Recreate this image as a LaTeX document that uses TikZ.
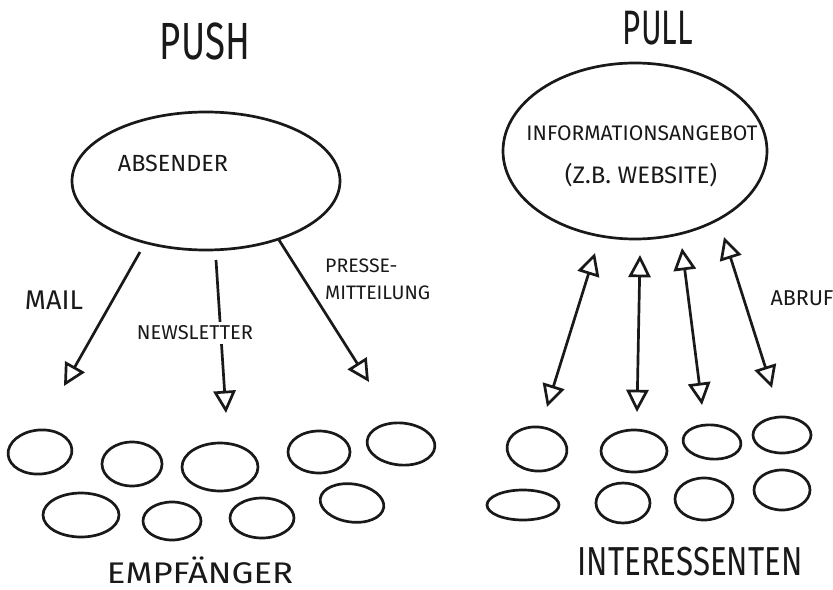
\documentclass[tikz,border=0pt]{standalone}
\usepackage{fontspec}
\setmainfont{Fira Sans}
\usetikzlibrary{shapes.geometric,arrows.meta}
\begin{document}
\begin{tikzpicture}[x=0.03cm,y=-0.03cm,
  ink/.style={line width=2.3pt, draw=black!90},
  blob/.style 2 args={ellipse, ink, inner sep=0pt, minimum width={#1*0.06cm}, minimum height={#2*0.06cm}},
  lbl/.style={inner sep=0pt, text=black!90},
  tipend/.style={ink, -{Triangle[open,length=19pt,width=19pt]}},
  tipboth/.style={ink, {Triangle[open,length=19pt,width=19pt]}-{Triangle[open,length=19pt,width=19pt]}}
]
\useasboundingbox[fill=white] (0,0) rectangle (833,590);

% titles
\node[lbl] (push) at (205,41) {\resizebox{2.7cm}{1.1cm}{PUSH}};
\node[lbl] (pull) at (658,28) {\resizebox{2.1cm}{1.0cm}{PULL}};

% central ellipses
\node[blob={134}{69}] (abs) at (206,181) {};
\node[lbl] (abstext) at (173,163) {\resizebox{3.3cm}{!}{ABSENDER}};
\node[blob={132}{88}] (info) at (635,151) {};
\node[lbl] (infot1) at (642,133) {\resizebox{6.93cm}{!}{INFORMATIONSANGEBOT}};
\node[lbl] (infot2) at (641,175) {\resizebox{4.56cm}{!}{(Z.B. WEBSITE)}};

% push arrows
\coordinate (m1) at (140,252);  \coordinate (m2) at (64,386);
\coordinate (n1) at (216,260);  \coordinate (n2) at (226,413);
\coordinate (p1) at (279,240);  \coordinate (p2) at (369,382);
\draw[tipend] (m1) -- (m2);
\draw[tipend] (n1) -- (n2);
\draw[tipend] (p1) -- (p2);
\node[lbl] (mail) at (54,300) {\resizebox{1.74cm}{!}{MAIL}};
\node[lbl, fill=white, inner sep=3pt] (news) at (195,333) {\resizebox{3.48cm}{!}{NEWSLETTER}};
\node[lbl, anchor=west] (presse) at (325,281) {\resizebox{3.15cm}{!}{\begin{tabular}{@{}l@{}}PRESSE-\\[2pt]MITTEILUNG\end{tabular}}};

% pull arrows
\coordinate (a1) at (547,407); \coordinate (b1) at (595,253);
\coordinate (a2) at (637,412); \coordinate (b2) at (640,255);
\coordinate (a3) at (702,405); \coordinate (b3) at (682,248);
\coordinate (a4) at (772,388); \coordinate (b4) at (724,237);
\draw[tipboth] (a1) -- (b1);
\draw[tipboth] (a2) -- (b2);
\draw[tipboth] (a3) -- (b3);
\draw[tipboth] (a4) -- (b4);
\node[lbl] (abruf) at (802,298) {\resizebox{1.89cm}{!}{ABRUF}};

% recipients (push)
\node[blob={32}{22}, rotate=5] (e1) at (40,452) {};
\node[blob={30}{22}] (e2) at (132,464) {};
\node[blob={38}{24}] (e3) at (220,467) {};
\node[blob={31}{21}] (e4) at (319,452) {};
\node[blob={34}{21}, rotate=-5] (e5) at (401,444) {};
\node[blob={38}{22}] (e6) at (81,515) {};
\node[blob={29}{19}] (e7) at (172,521) {};
\node[blob={32}{20}] (e8) at (262,518) {};
\node[blob={32}{19}, rotate=-8] (e9) at (352,503) {};
\node[lbl] (empf) at (200,570) {\resizebox{5.58cm}{0.8cm}{EMPFÄNGER}};

% interested parties (pull)
\node[blob={30}{22}, rotate=-5] (i1) at (537,449) {};
\node[blob={33}{21}] (i2) at (634,451) {};
\node[blob={29}{17}, rotate=-5] (i3) at (712,442) {};
\node[blob={29}{18}] (i4) at (782,435) {};
\node[blob={36}{15}] (i5) at (523,505) {};
\node[blob={27}{20}] (i6) at (623,503) {};
\node[blob={29}{21}] (i7) at (704,499) {};
\node[blob={28}{20}] (i8) at (782,490) {};
\node[lbl] (inter) at (690,562) {\resizebox{6.75cm}{0.85cm}{INTERESSENTEN}};
\end{tikzpicture}
\end{document}
